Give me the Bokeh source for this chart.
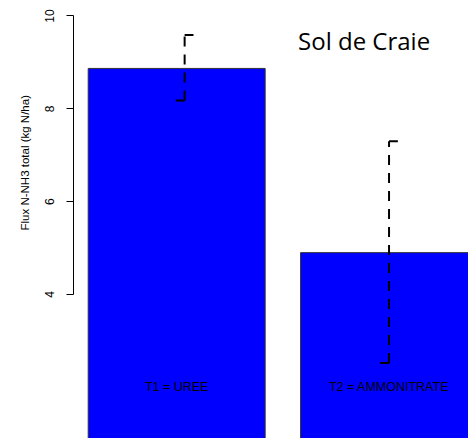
import math
from bokeh.plotting import figure
from bokeh.models import FixedTicker, Label, ColumnDataSource
from bokeh.core.properties import value
from bokeh.embed import file_html
from bokeh.resources import INLINE

# ---- data ----
categories = ["T1 = UREE", "T2 = AMMONITRATE"]
bar_left = [0.2, 1.4]
bar_right = [1.2, 2.4]
bar_center = [0.7, 1.9]
flux = [8.87, 4.90]
err_x = [0.745, 1.9]
err_low = [8.18, 2.52]
err_high = [9.59, 7.30]
label_y = [2.0, 2.0]
y_ticks = [4, 6, 8, 10]
title_text = "Sol de Craie"
y_label = "Flux N-NH3 total (kg N/ha)"

cap = 0.05

p = figure(width=468, height=438, output_backend="svg", toolbar_location=None,
           x_range=(0.117, 2.349), y_range=(0.894, 10.334),
           x_axis_location=None, min_border_left=73, min_border_right=0,
           min_border_top=0, min_border_bottom=0,
           title=y_label, title_location="left")
p.grid.visible = False
p.outline_line_color = None
p.background_fill_color = "white"

# y-axis title rendered as a left-side title (positioned like R's ylab)
p.title.text_font = "Liberation Sans"
p.title.text_font_size = "11.5px"
p.title.text_font_style = "normal"
p.title.text_color = "black"
p.title.align = "left"
p.title.offset = 208
p.title.standoff = 24

bars = ColumnDataSource(dict(left=bar_left, right=bar_right, top=flux,
                             bottom=[0] * len(flux)))
p.quad(left="left", right="right", top="top", bottom="bottom", source=bars,
       fill_color="#0000FF", line_color="#333333", line_width=1)

# error bars (dashed shaft, caps)
p.segment(x0=err_x, y0=err_low, x1=err_x, y1=err_high,
          line_color="black", line_width=2, line_dash="10 8")
p.segment(x0=err_x, y0=err_high, x1=[x + cap for x in err_x], y1=err_high,
          line_color="black", line_width=2)
p.segment(x0=[x - cap for x in err_x], y0=err_low, x1=err_x, y1=err_low,
          line_color="black", line_width=2)

# bar labels
p.text(x=bar_center, y=label_y, text=categories, text_align="center",
       text_baseline="middle", text_font=value("Liberation Sans"),
       text_font_size="12.5px", text_color="black")

# chart title annotation
p.add_layout(Label(x=1.386, y=9.47, text=title_text, text_font="Open Sans",
                   text_font_size="24px", text_color="black",
                   text_baseline="alphabetic", text_align="left"))

ax = p.yaxis[0]
ax.ticker = FixedTicker(ticks=y_ticks)
ax.bounds = (4, 10)
ax.minor_tick_line_color = None
ax.major_tick_in = 0
ax.major_tick_out = 7
ax.major_label_orientation = "vertical"
ax.major_label_text_font = "Liberation Sans"
ax.major_label_text_font_size = "12px"
ax.major_label_text_color = "black"
ax.major_label_standoff = 12
ax.axis_line_color = "black"
ax.major_tick_line_color = "black"

open("out.html", "w").write(file_html(p, INLINE))
